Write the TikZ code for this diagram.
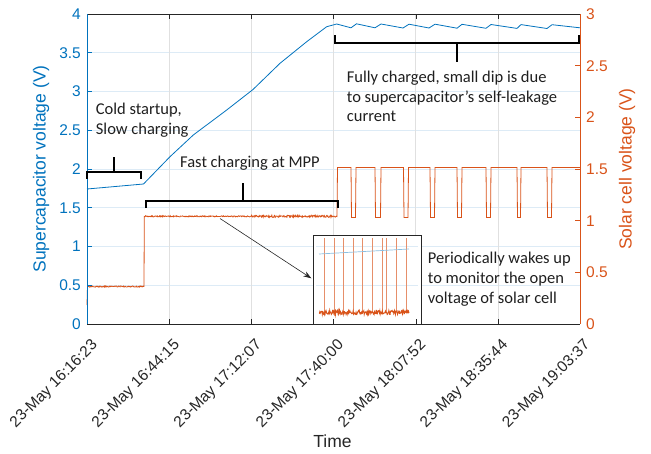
\documentclass[tikz,border=0pt]{standalone}
\usepackage{fontspec}
\setmainfont{Liberation Sans}
\newfontfamily\calfont{Carlito}
\usetikzlibrary{arrows.meta}
\definecolor{mblue}{HTML}{0072BD}
\definecolor{morange}{HTML}{D95319}
\definecolor{gridb}{HTML}{DDEBF6}
\definecolor{gridg}{HTML}{E0E0E0}
\definecolor{axgray}{HTML}{262626}
\begin{document}
\begin{tikzpicture}[x=1pt,y=-1pt,
  ticklab/.style={font=\fontsize{15.5}{18}\selectfont, inner sep=0pt},
  axlab/.style={font=\fontsize{17.5}{20}\selectfont, inner sep=0pt},
  note/.style={font=\calfont\fontsize{16.5}{19.7}\selectfont, align=left, inner sep=0pt, text=black!88},
  brace/.style={line width=2pt, black, line join=miter},
  bluecurve/.style={mblue, line width=0.8pt, line join=round},
  orangecurve/.style={morange, line width=0.8pt},
  gridh/.style={gridb, line width=0.7pt},
  gridv/.style={gridg, line width=0.7pt}]
\useasboundingbox (0,0) rectangle (651,453);
% grid
\foreach \k in {1,...,7} \draw[gridh] (87,{324-\k*38.75}) -- (580,{324-\k*38.75});
\foreach \k in {1,...,5} \draw[gridv] ({87.5+\k*82.08},14) -- ({87.5+\k*82.08},324);
% supercapacitor voltage
\draw[bluecurve] (87,189) -- (143.5,184) -- (170,156.7) -- (193.3,135) -- (226.7,110) -- (253,89.5) -- (280,63.3) -- (306.7,41.7) -- (326.7,26.7) -- (336.7,24)
  -- (351,27.8) -- (356.5,23.8) -- (375,27.8) -- (381,24) -- (403,28) -- (409,24.2) -- (429,28) -- (435,24.2) -- (457,28.2) -- (462,24.3) -- (486,28.3) -- (491,24.5) -- (517,28.4) -- (521,24.6) -- (547,28.5) -- (552,24.7) -- (580,27.8);
% solar cell voltage
\pgfmathsetseed{7}
\draw[orangecurve] (87,305) -- (87.5,286.5) -- plot[domain=88:143.5, samples=110] (\x,{286.5+0.6*rand}) -- (144,286.5) -- (144.3,216.5)
  -- plot[domain=145:336.5, samples=380] (\x,{216.3+(\x>250?1.1:0.6)*rand}) -- (337,216.5) -- (337.5,167.5)
  \foreach \a/\b in {351/356,375/381,403.5/408.5,430/435,457/462,486/491,517/521,547/552} { -- (\a,167.5) -- ({\a+0.5},217.5) -- ({\b-0.5},217.5) -- (\b,167.5)}
  -- (580,167.5);
% inset
\node[draw=axgray, fill=white, line width=0.8pt, minimum width=108pt, minimum height=89pt, inner sep=0pt, anchor=north west] (inset) at (313,234.5) {};
\draw[gridh] (316,246.5) -- (418,246.5);
\draw[gridh] (316,285) -- (418,285);
\foreach \s in {324,334,343.7,353.3,362.7,372.3,382.3,386.7,396.7,406} \draw[morange!65, line width=0.6pt] (\s,238) -- (\s,313);
\draw[morange, line width=0.9pt] plot[domain=319:409, samples=220] (\x,{312.5+2.2*rand});
\draw[mblue!45, line width=0.7pt] (319,254) -- (409,249);
% axes
\draw[axgray, line width=0.8pt] (87,324) -- (580,324);
\draw[axgray, line width=0.8pt] (87,14) -- (580,14);
\draw[mblue, line width=0.8pt] (87,14) -- (87,324);
\draw[morange, line width=0.8pt] (580,14) -- (580,324);
\foreach \k in {1,...,5} {
  \draw[axgray, line width=0.6pt] ({87.5+\k*82.08},324) -- ({87.5+\k*82.08},319);
  \draw[axgray, line width=0.6pt] ({87.5+\k*82.08},14) -- ({87.5+\k*82.08},19);
}
\foreach \k in {1,...,7} \draw[mblue, line width=0.6pt] (87,{324-\k*38.75}) -- (92,{324-\k*38.75});
\foreach \k in {1,...,5} \draw[morange, line width=0.6pt] (580,{324-\k*51.667}) -- (575,{324-\k*51.667});
% tick labels
\foreach \v [count=\i from 0] in {0,0.5,1,1.5,2,2.5,3,3.5,4}
  \node[ticklab, text=mblue, anchor=east] (yl\i) at (81,{324-\i*38.75}) {\v};
\foreach \v [count=\i from 0] in {0,0.5,1,1.5,2,2.5,3}
  \node[ticklab, text=morange, anchor=west] (yr\i) at (586,{324-\i*51.667}) {\v};
\foreach \t [count=\i from 0] in {16:16:23,16:44:15,17:12:07,17:40:00,18:07:52,18:35:44,19:03:37}
  \node[ticklab, text=axgray, anchor=east, rotate=45] (xl\i) at ({95.5+\i*82.08},343) {23-May \t};
% axis labels
\node[axlab, text=mblue, rotate=90] (ylab) at (41,169) {Supercapacitor voltage (V)};
\node[axlab, text=morange, rotate=90] (yrlab) at (627,169) {Solar cell voltage (V)};
\node[axlab, text=axgray] (xlab) at (332.5,441.5) {Time};
% brackets
\draw[brace] (87.3,178.5) -- (87.3,172.3) -- (141,172.3) -- (141,178.5);
\draw[brace] (114.3,172.3) -- (114.3,156.7);
\draw[brace] (146,208) -- (146,201) -- (338,201) -- (338,208);
\draw[brace] (243.3,201) -- (243.3,182.7);
\draw[brace] (335,35) -- (335,42.7) -- (579.3,42.7) -- (579.3,35);
\draw[brace] (456.7,42.7) -- (456.7,61.7);
% annotations (base anchor = baseline of the last line)
\node[note, anchor=base west] (cold) at (95.7,134) {Cold startup,\\Slow charging};
\node[note, anchor=base west] (fast) at (180,167.7) {Fast charging at MPP};
\node[note, anchor=base west] (full) at (346.7,121.7) {Fully charged, small dip is due\\to supercapacitor’s self-leakage\\current};
\node[note, anchor=base west] (wake) at (427.7,303.3) {Periodically wakes up\\to monitor the open\\voltage of solar cell};
% arrow
\coordinate (arrS) at (220,218.5);
\draw[axgray, line width=0.6pt, -{Stealth[length=8pt,width=5.5pt]}, shorten >=2pt] (arrS) -- (inset.west);
\end{tikzpicture}
\end{document}
